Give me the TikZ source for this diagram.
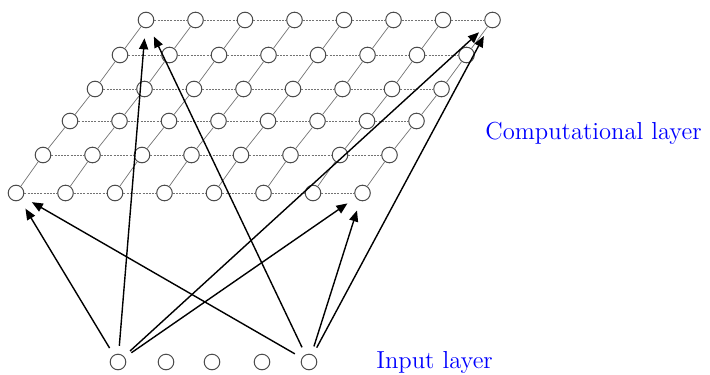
\documentclass[tikz,border=0pt]{standalone}
\usetikzlibrary{arrows.meta}
\begin{document}
\begin{tikzpicture}[x=0.5pt,y=-0.5pt,
  unit/.style={circle,draw=black!70,line width=0.5pt,minimum size=7.8pt,inner sep=0pt},
  hline/.style={draw=black!55,line width=0.4pt,dash pattern=on 1pt off 0.6pt},
  dline/.style={draw=black!55,line width=0.35pt},
  link/.style={-{Triangle[length=5.5pt,width=4.5pt]},line width=0.7pt,shorten >=5pt,shorten <=4pt},
  caption/.style={text=blue,font=\rmfamily\fontsize{12.3}{15}\selectfont,anchor=base west,inner sep=0pt}]
\useasboundingbox (0,0) rectangle (710,374);
% computational layer
\foreach \r/\y/\x in {0/20/146,1/55/120,2/89/95,3/121/70,4/155/43,5/193/16}
  \foreach \c in {0,...,7}
    \node[unit] (g-\r-\c) at (\x+49.5*\c,\y) {};
\foreach \r in {0,...,5}
  \foreach \c [count=\n from 1] in {0,...,6}
    \draw[hline] (g-\r-\c) -- (g-\r-\n);
\foreach \r [count=\s from 1] in {0,...,4}
  \foreach \c in {0,...,7}
    \draw[dline] (g-\r-\c) -- (g-\s-\c);
% input layer
\foreach \i/\x in {1/118,2/166,3/212,4/262,5/309}
  \node[unit] (in-\i) at (\x,362) {};
% connections
\foreach \s in {1,5}
  \foreach \t in {5-0,0-0,0-7,5-7}
    \draw[link] (in-\s) -- (g-\t);
\node[caption] (comp) at (485,139.5) {Computational layer};
\node[caption] (inp) at (376,368) {Input layer};
\end{tikzpicture}
\end{document}
